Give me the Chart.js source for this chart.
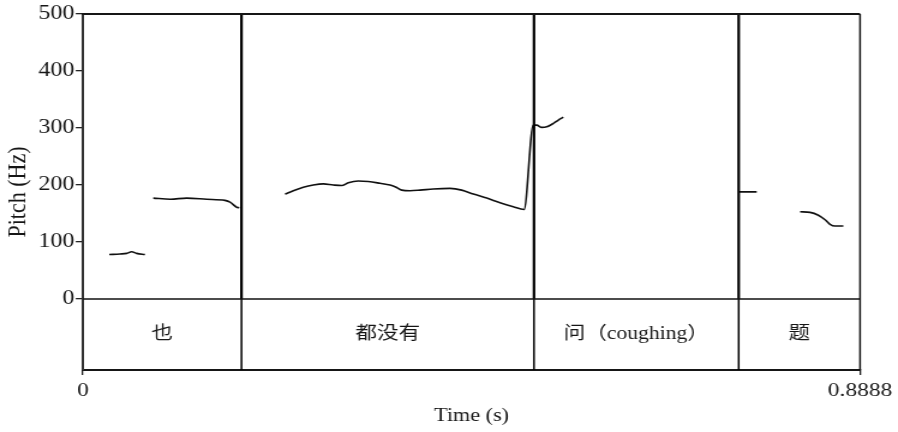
<!DOCTYPE html>
<html>
<head>
<meta charset="utf-8">
<title>Pitch contour</title>
<script src="https://cdn.jsdelivr.net/npm/chart.js@4.4.1/dist/chart.umd.min.js"></script>
<style>
  html, body { margin: 0; padding: 0; background: #fff; overflow: hidden; }
  #wrap { width: 898px; height: 432px; overflow: hidden; }
  /* the figure is set with slightly wide type, so the canvas is widened horizontally */
  #c { display: block; transform-origin: 0 0; transform: scaleX(1.2005); }
</style>
</head>
<body>
<div id="wrap"><canvas id="c" width="748" height="432"></canvas></div>
<script>
// F0 track, one sub-array per voiced stretch (time in s, pitch in Hz)
const pitchTime = [
  [0.0301, 0.0423, 0.0500, 0.0557, 0.0614, 0.0709],
  [0.0804, 0.1001, 0.1186, 0.1415, 0.1624, 0.1682, 0.1758, 0.1788],
  [0.2311, 0.2406, 0.2520, 0.2634, 0.2749, 0.2863, 0.2959, 0.3035, 0.3149, 0.3264,
   0.3397, 0.3512, 0.3569, 0.3646, 0.3741, 0.3855, 0.4007, 0.4198, 0.4332, 0.4465,
   0.4618, 0.4770, 0.4922, 0.5045, 0.5151, 0.5190, 0.5247, 0.5304, 0.5380, 0.5437, 0.5494],
  [0.7505, 0.7706],
  [0.8202, 0.8316, 0.8411, 0.8488, 0.8545, 0.8602, 0.8697]
];
const pitchHz = [
  [78, 79, 80, 83, 80, 78],
  [177, 175, 177, 175, 173, 170, 161, 160],
  [184, 190, 196, 200, 202, 200, 199, 204, 207, 206,
   203, 200, 197, 191, 190, 191, 193, 194, 191, 184,
   177, 169, 162, 157, 305, 305, 301, 302, 308, 314, 319],
  [188, 188],
  [153, 152, 147, 139, 131, 128, 128]
];

// word tier: interval edges (s) and their labels
const tierEdges = [0, 0.1813, 0.5159, 0.7500, 0.8888];
const tierLabels = ['也', '都没有', '问（coughing）', '题'];

// axis ticks
const timeTicks = [0, 0.8888];
const hzTicks = [0, 100, 200, 300, 400, 500];

const T_END = 0.8888;
const HZ_MAX = 500;
const TIER_FLOOR = -124.6;   // depth of the text tier below 0 Hz, in axis units

const SERIF = '"Liberation Serif", "Times New Roman", serif';
const INK = '#161616';

// flatten the voiced stretches into one dataset, with gaps between them
const pitchPoints = [];
pitchTime.forEach((seg, s) => {
  seg.forEach((t, i) => pitchPoints.push({ x: t, y: pitchHz[s][i] }));
  pitchPoints.push({ x: seg[seg.length - 1], y: null });
});

// interval boundaries: heavy through the pitch panel, light through the tier
const inner = tierEdges.slice(1, -1);
const edgeHeavy = [];
const edgeLight = [];
inner.forEach(e => {
  edgeHeavy.push({ x: e, y: 0 }, { x: e, y: HZ_MAX }, { x: e, y: null });
  edgeLight.push({ x: e, y: TIER_FLOOR }, { x: e, y: 0 }, { x: e, y: null });
});
const zeroLine = [{ x: 0, y: 0 }, { x: T_END, y: 0 }];

// frame edges and tier text
const tierText = {
  id: 'tierText',
  afterDatasetsDraw(chart) {
    const { ctx, chartArea: a, scales: { x, y } } = chart;
    ctx.save();
    ctx.strokeStyle = INK;
    ctx.lineWidth = 2;
    ctx.beginPath();
    ctx.moveTo(a.left - 1, a.top);
    ctx.lineTo(a.right, a.top);
    ctx.stroke();
    ctx.lineWidth = 1.5;
    ctx.beginPath();
    ctx.moveTo(a.right, a.top);
    ctx.lineTo(a.right, a.bottom);
    ctx.stroke();

    ctx.fillStyle = INK;
    ctx.font = '18px "Liberation Serif", "Noto Sans CJK SC", serif';
    ctx.textAlign = 'center';
    ctx.textBaseline = 'middle';
    const yMid = y.getPixelForValue(TIER_FLOOR / 2);
    tierLabels.forEach((s, i) => {
      const xm = x.getPixelForValue((tierEdges[i] + tierEdges[i + 1]) / 2);
      ctx.fillText(s, xm, yMid);
    });
    ctx.restore();
  }
};

new Chart(document.getElementById('c'), {
  type: 'scatter',
  data: {
    datasets: [
      { data: zeroLine, showLine: true, borderColor: '#111', borderWidth: 1.5, pointRadius: 0 },
      { data: edgeLight, showLine: true, borderColor: '#000', borderWidth: 1.5, pointRadius: 0, spanGaps: false },
      { data: edgeHeavy, showLine: true, borderColor: '#000', borderWidth: 2.2, pointRadius: 0, spanGaps: false },
      { data: pitchPoints, showLine: true, borderColor: '#111', borderWidth: 1.6, pointRadius: 0,
        spanGaps: false, cubicInterpolationMode: 'monotone' }
    ]
  },
  options: {
    responsive: false,
    animation: false,
    devicePixelRatio: 1,
    events: [],
    layout: { padding: { top: 14, right: 31.6, bottom: 0, left: 0 } },
    plugins: { legend: { display: false }, tooltip: { enabled: false } },
    scales: {
      x: {
        type: 'linear',
        position: 'bottom',
        min: 0,
        max: T_END,
        afterBuildTicks: s => { s.ticks = timeTicks.map(v => ({ value: v })); },
        afterFit: s => { s.height = 62; },
        ticks: {
          autoSkip: false,
          maxRotation: 0,
          padding: 4,
          color: INK,
          font: { family: SERIF, size: 19.5 },
          callback: v => String(v)
        },
        grid: { drawOnChartArea: false, drawTicks: true, tickLength: 5, color: '#222', lineWidth: 1.3 },
        border: { display: true, width: 2, color: INK },
        title: {
          display: true,
          text: 'Time (s)',
          color: INK,
          font: { family: SERIF, size: 18.5 },
          padding: { top: 0, bottom: 5 }
        }
      },
      y: {
        type: 'linear',
        position: 'left',
        min: TIER_FLOOR,
        max: HZ_MAX,
        afterBuildTicks: s => { s.ticks = hzTicks.map(v => ({ value: v })); },
        afterFit: s => { s.width = 69.1; },
        ticks: {
          padding: 1,
          color: INK,
          font: { family: SERIF, size: 20 }
        },
        grid: { drawOnChartArea: false, drawTicks: true, tickLength: 6, color: '#222', lineWidth: 1.3 },
        border: { display: true, width: 2, color: '#333' },
        title: {
          display: true,
          text: 'Pitch (Hz)',
          color: INK,
          font: { family: SERIF, size: 22 },
          padding: { top: 2, bottom: 0 }
        }
      }
    }
  },
  plugins: [tierText]
});
</script>
</body>
</html>
